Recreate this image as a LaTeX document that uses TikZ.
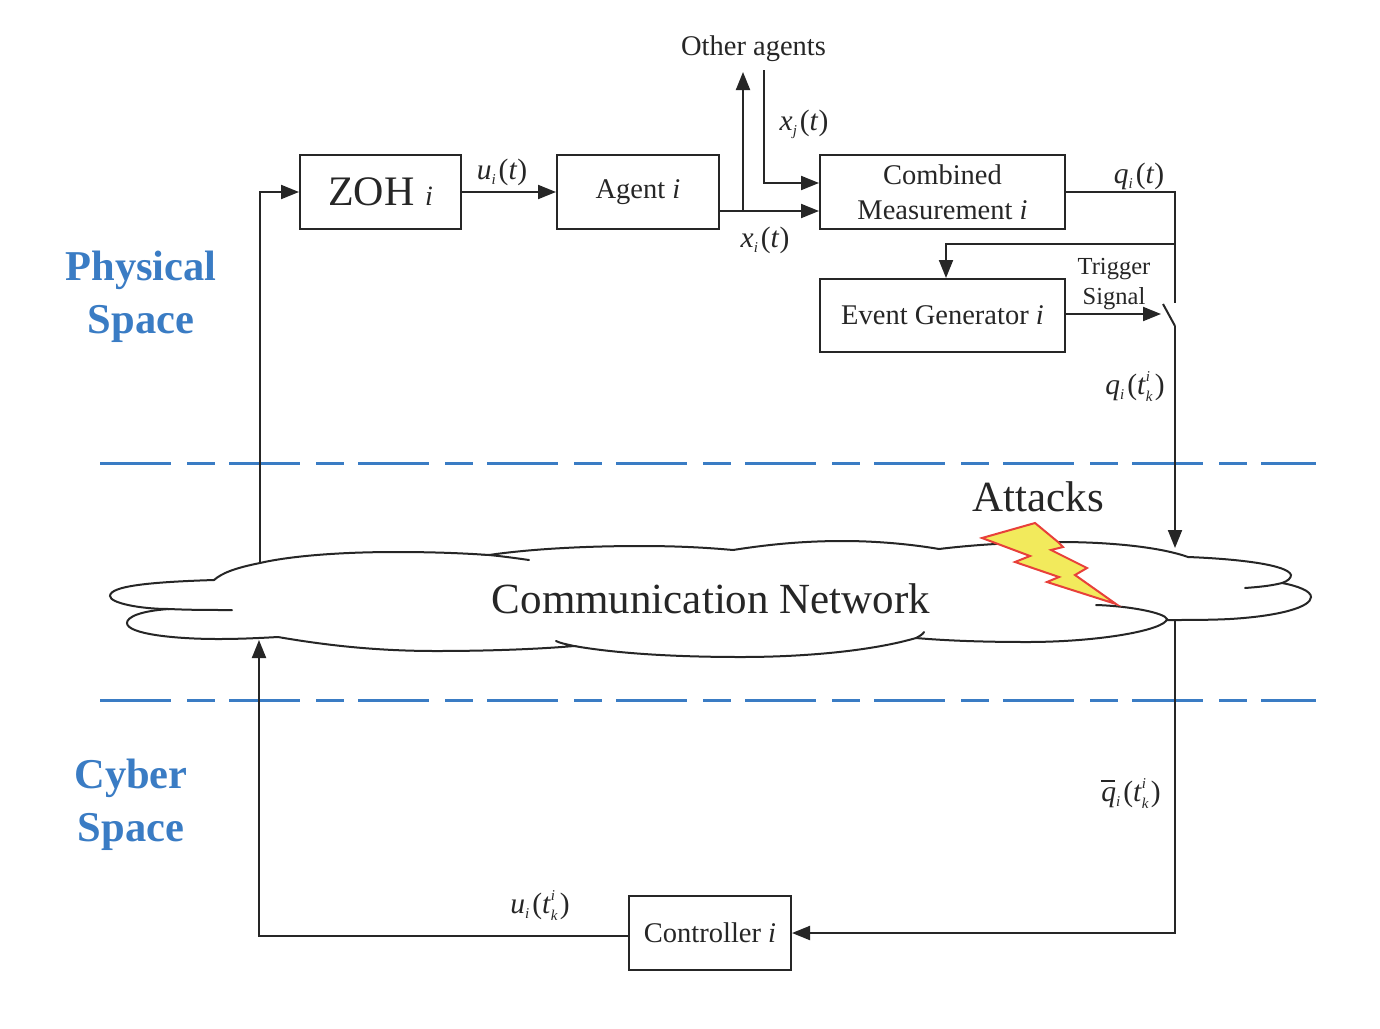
\documentclass[tikz,border=0pt]{standalone}
\usepackage{fontspec}
\setmainfont{Liberation Serif}
\usetikzlibrary{arrows.meta,calc}
\definecolor{zoneblue}{HTML}{3A7CC4}
\definecolor{boltyellow}{HTML}{F2EA5C}
\definecolor{boltred}{HTML}{E8403A}
\definecolor{ink}{HTML}{262626}
\newcommand{\fs}[1]{\fontsize{#1}{#1}\selectfont}
\newcommand{\iv}[1]{\textit{#1}}
\newcommand{\lowsub}[1]{\raisebox{-5pt}{\fs{15}\iv{#1}}\hspace{3pt}}
\newcommand{\isub}{\lowsub{i}}
\newcommand{\tki}{\iv{t}\rlap{\raisebox{13pt}{\fs{15}\iv{i}}}\raisebox{-7pt}{\fs{15}\iv{k}}\hspace{2pt}}
\tikzset{
  x=1pt,y=-1pt,
  box/.style={draw=ink,line width=2pt,fill=white,inner sep=0pt,align=center,text=ink,font=\fs{28.5}},
  conn/.style={draw=ink,line width=2pt},
  arr/.style={conn,-{Triangle[length=18pt,width=14pt]}},
  lab/.style={inner sep=0pt,text=ink,font=\fs{29.5},align=center},
  zone/.style={inner sep=0pt,text=zoneblue,font=\fs{42.5}\bfseries,align=center},
  divider/.style={draw=zoneblue,line width=3pt,dash pattern=on 71pt off 16pt on 28pt off 14pt},
  cloudline/.style={draw=ink,line width=2pt,line cap=round},
}
\begin{document}
\begin{tikzpicture}
\useasboundingbox (0,0) rectangle (1380,1028);
\fill[white] (0,0) rectangle (1380,1028);

% cloud outline
\draw[cloudline]
  (214,580) .. controls (150,582) and (110,586) .. (110,596)
  .. controls (110,603) and (140,609) .. (169,609)
  .. controls (190,610) and (210,610) .. (232,610);
\draw[cloudline]
  (169,609) .. controls (140,611) and (127,617) .. (127,623)
  .. controls (127,634) and (175,639) .. (218,639)
  .. controls (240,639) and (260,638) .. (278,637)
  .. controls (330,646) and (380,651) .. (436,651)
  .. controls (490,651) and (540,649) .. (574,646)
  .. controls (565,644) and (560,643) .. (556,641);
\draw[cloudline]
  (574,646) .. controls (620,654) and (680,657) .. (741,657)
  .. controls (810,657) and (875,650) .. (916,638)
  .. controls (920,636) and (923,634) .. (924,632);
\draw[cloudline]
  (916,638) .. controls (950,641) and (990,642) .. (1027,642)
  .. controls (1100,642) and (1165,630) .. (1167,619)
  .. controls (1165,613) and (1130,606) .. (1096,605);
\draw[cloudline]
  (1167,620) .. controls (1190,620) and (1210,620) .. (1230,619)
  .. controls (1280,616) and (1311,607) .. (1311,597)
  .. controls (1311,591) and (1298,586) .. (1282,583)
  .. controls (1270,586) and (1258,587) .. (1245,588);
\draw[cloudline]
  (1282,583) .. controls (1288,581) and (1291,578) .. (1291,575)
  .. controls (1288,565) and (1240,559) .. (1188,557)
  .. controls (1160,547) and (1110,542) .. (1059,542)
  .. controls (1025,542) and (980,544) .. (939,549)
  .. controls (910,544) and (875,541) .. (843,541)
  .. controls (800,541) and (765,545) .. (733,550)
  .. controls (700,547) and (670,546) .. (641,546)
  .. controls (585,546) and (530,549) .. (489,555)
  .. controls (500,556) and (515,558) .. (529,560);
\draw[cloudline]
  (489,555) .. controls (460,553) and (430,552) .. (396,552)
  .. controls (340,552) and (290,556) .. (260,563)
  .. controls (235,568) and (222,573) .. (214,580);

% dividers
\coordinate (d1l) at (100,463); \coordinate (d1r) at (1316,463);
\coordinate (d2l) at (100,700); \coordinate (d2r) at (1316,700);
\draw[divider] (d1l) -- (d1r);
\draw[divider] (d2l) -- (d2r);

% boxes
\node[box,minimum width=161pt,minimum height=74pt] (zoh) at (380.5,192) {\fs{42}ZOH \fs{28}\iv{i}};
\node[box,minimum width=162pt,minimum height=74pt] (agent) at (638,192) {\raisebox{-2pt}{Agent \iv{i}}};
\node[box,minimum width=245pt,minimum height=74pt] (comb) at (942.5,192) {Combined\\[6pt]Measurement \iv{i}};
\node[box,minimum width=245pt,minimum height=73pt] (event) at (942.5,315.5) {\raisebox{-1pt}{Event Generator \iv{i}}};
\node[box,minimum width=162pt,minimum height=74pt] (ctrl) at (710,933) {\raisebox{-2pt}{Controller \iv{i}}};

% free ends
\coordinate (cloudTL) at (260,563);
\coordinate (cloudBL) at (259,640);
\coordinate (cloudTR) at (1175,548);
\coordinate (cloudBR) at (1175,620);
\node[lab,font=\fs{28.5}] (other) at (753.5,49) {Other agents};
\coordinate (upEnd) at (743,72);
\coordinate (downStart) at (764,70);
\coordinate (branch) at (743,211);
\coordinate (qcorner) at (1175,192);
\coordinate (swTop) at (1175,303);
\coordinate (swA) at (1163,304);
\coordinate (swB) at (1175,326);
\coordinate (qsplit) at (1175,244);
\coordinate (egIn) at (946,244);

% connectors
\draw[arr] (cloudTL) |- (zoh.west);
\draw[arr] (zoh.east) -- (agent.west);
\draw[arr] (agent.east |- branch) -- (comb.west |- branch);
\draw[arr] (branch) -- (upEnd);
\draw[arr] (downStart) |- (comb.west |- 0,183);
\draw[conn] (comb.east) -- (qcorner) -- (swTop);
\draw[arr] (qsplit) -- (egIn) -- (egIn |- event.north);
\draw[arr] (event.east |- 0,314) -- (1161,314);
\draw[conn] (swA) -- (swB);
\draw[arr] (swB) -- (cloudTR);
\draw[arr] (cloudBR) |- (ctrl.east);
\draw[arr] (ctrl.west |- 0,936) -| (cloudBL);

% bolt
\draw[fill=boltyellow,draw=boltred,line width=2pt,line join=miter]
  (1035,523) -- (1058,542) -- (1063,547) -- (1051,550) -- (1087,568) -- (1075,575)
  -- (1116,604) -- (1047,582) -- (1059,577) -- (1015,562) -- (1030,556) -- (982,538) -- cycle;

% labels
\node[inner sep=0pt,text=ink,font=\fs{43}] (net) at (711,599) {Communication Network};
\node[inner sep=0pt,text=ink,font=\fs{43}] (att) at (1038.5,497) {Attacks};
\node[zone] (phys) at (141,297) {Physical\\[10pt]Space};
\node[zone] (cyb) at (131,805) {Cyber\\[10pt]Space};
\node[lab] (lu) at (502,172) {\iv{u}\isub(\iv{t})};
\node[lab] (lxj) at (804,124) {\iv{x}\lowsub{j}(\iv{t})};
\node[lab] (lxi) at (765,240) {\iv{x}\isub(\iv{t})};
\node[lab] (lq) at (1139,176) {\iv{q}\isub(\iv{t})};
\node[lab,font=\fs{24.5}] (ltr) at (1114,284.5) {Trigger\\[5.5pt]Signal};
\node[lab] (lqk) at (1135,387) {\iv{q}\isub(\tki)};
\node[lab] (lqb) at (1131,794) {\rlap{\raisebox{20pt}{\rule{14pt}{1.5pt}}}\iv{q}\isub(\tki)};
\node[lab] (luk) at (540,906) {\iv{u}\isub(\tki)};
\end{tikzpicture}
\end{document}
